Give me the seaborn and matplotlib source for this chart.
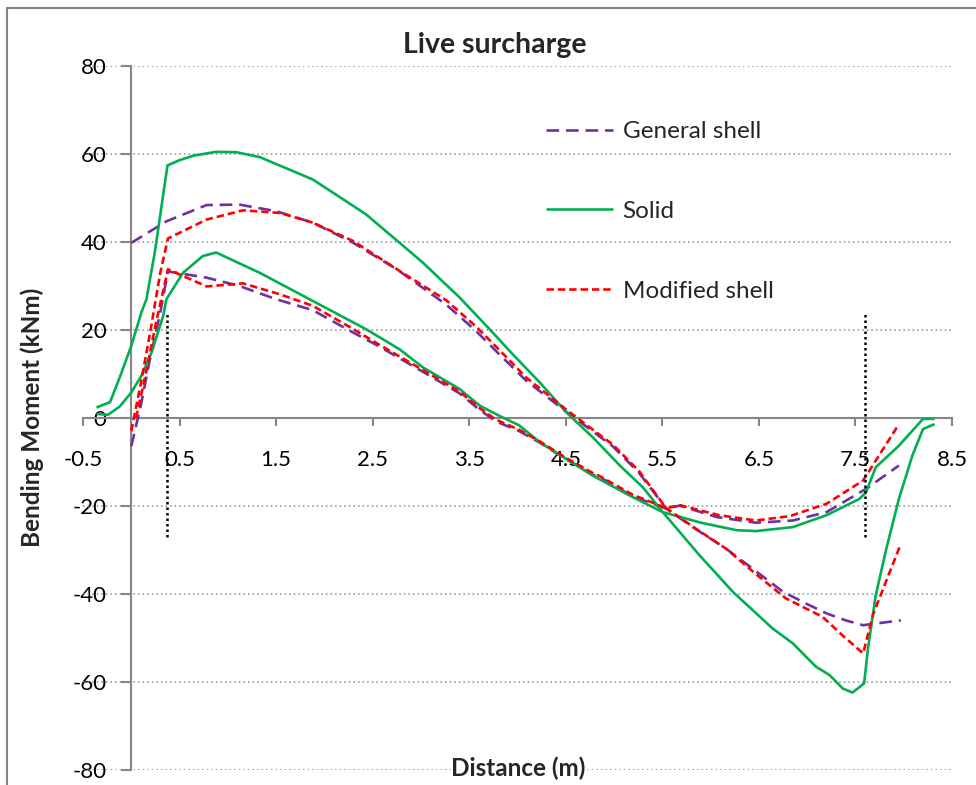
import matplotlib
matplotlib.use("Agg")
import matplotlib.pyplot as plt
import seaborn as sns
import numpy as np
import pandas as pd
from matplotlib.patches import Rectangle

# ---------------- data ----------------
gs1_x = [0, 0.364, 0.78, 1.12, 1.5, 1.88, 2.3, 2.75, 3.26, 3.57, 3.81, 4.09, 4.30, 4.50, 4.71,
         4.99, 5.26, 5.54, 5.85, 6.16, 6.45, 6.75, 7.0, 7.2, 7.4, 7.58, 7.71, 7.97]
gs1_y = [39.8, 44.7, 48.4, 48.5, 47.0, 44.4, 39.8, 33.8, 25.8, 19.8, 14.5, 8.5, 4.9, 1.5, -1.9,
         -6.5, -12.5, -20.6, -25.3, -29.7, -34.5, -39.5, -42.3, -44.4, -46.0, -47.1, -46.7, -46.0]
gs2_x = [0, 0.1, 0.19, 0.3, 0.38, 0.78, 1.12, 1.5, 1.88, 2.3, 2.573, 3.02, 3.40, 3.61, 3.78, 4.02,
         4.23, 4.505, 4.78, 4.85, 5.19, 5.54, 5.68, 6.06, 6.47, 6.85, 7.20, 7.61, 7.95]
gs2_y = [-6.4, 3, 13, 24, 33.3, 31.9, 30.0, 27.0, 24.5, 19.4, 16.2, 10.5, 5.6, 1.8, -0.8, -3.0,
         -5.6, -9.4, -12.9, -13.4, -17.8, -20.6, -19.9, -22.5, -23.8, -23.3, -21.4, -16.1, -10.8]

so1_x = [-0.36, -0.22, -0.12, 0.0, 0.105, 0.157, 0.243, 0.375, 0.50, 0.64, 0.88, 1.09, 1.33, 1.675,
         1.88, 2.09, 2.43, 2.78, 3.02, 3.40, 3.71, 3.95, 4.23, 4.505, 4.78, 5.06, 5.30, 5.505, 5.885,
         6.23, 6.64, 6.85, 7.09, 7.23, 7.37, 7.47, 7.59, 7.63, 7.71, 7.82, 7.95, 8.09, 8.20, 8.32]
so1_y = [2.4, 3.6, 9.2, 16.4, 24.0, 27.0, 37.6, 57.4, 58.6, 59.6, 60.5, 60.4, 59.3, 56.1,
         54.2, 51.2, 46.3, 39.8, 35.3, 27.4, 20.2, 14.5, 8.1, 1.3, -4.4, -10.8, -15.8, -21.4, -31.2,
         -39.5, -47.8, -51.2, -56.5, -58.4, -61.5, -62.4, -60.3, -52.4, -40.3, -29.7, -18.4, -8.5, -2.5, -1.4]
so2_x = [-0.36, -0.24, -0.12, 0.0, 0.105, 0.21, 0.33, 0.364, 0.536, 0.74, 0.88, 1.33, 1.88, 2.43,
         2.78, 3.02, 3.40, 3.61, 3.81, 4.02, 4.23, 4.505, 4.78, 5.16, 5.505, 5.9, 6.27, 6.47, 6.85,
         7.20, 7.54, 7.61, 7.71, 7.95, 8.20, 8.32]
so2_y = [0.9, 0.75, 2.6, 5.8, 9.6, 14.9, 23.2, 27.0, 33.0, 36.8, 37.6, 33.0, 26.6, 20.2,
         15.6, 11.5, 6.6, 2.8, 0.5, -1.7, -5.5, -9.3, -13.1, -17.6, -21.4, -23.8, -25.5, -25.7, -24.8,
         -22.1, -18.4, -16.9, -11.2, -6.3, -0.2, -0.2]

ms1_x = [0, 0.1, 0.2, 0.3, 0.38, 0.78, 1.157, 1.54, 1.88, 2.30, 2.78, 3.26, 3.57, 3.81, 4.09, 4.30,
         4.505, 4.71, 4.99, 5.26, 5.54, 5.85, 6.16, 6.47, 6.78, 7.16, 7.37, 7.58, 7.68, 7.97]
ms1_y = [-3, 8, 20, 33, 40.8, 45.1, 47.2, 46.6, 44.4, 40.2, 33.4, 26.8, 20.8, 15.5, 9.2, 5.5,
         1.9, -1.5, -6.1, -12.1, -20.5, -25.2, -29.7, -35.5, -41.0, -45.2, -49.5, -53.5, -44.8, -28.6]
ms2_x = [0.05, 0.15, 0.25, 0.38, 0.78, 1.157, 1.54, 1.88, 2.30, 2.573, 3.02, 3.40, 3.61, 3.78, 4.02,
         4.23, 4.505, 4.78, 4.85, 5.19, 5.54, 5.68, 6.09, 6.47, 6.82, 7.20, 7.58, 7.95]
ms2_y = [0, 10, 21, 33.8, 29.9, 30.6, 28.1, 25.5, 20.2, 16.6, 10.9, 6.0, 2.2, -0.4, -2.7,
         -5.3, -9.1, -12.5, -13.2, -17.4, -20.5, -19.8, -22.1, -23.3, -22.3, -19.5, -14.2, -1.4]

support_x = [0.37, 7.6]
support_y = [-27, 24]

x_ticks = [-0.5, 0.5, 1.5, 2.5, 3.5, 4.5, 5.5, 6.5, 7.5, 8.5]
y_ticks = [-80, -60, -40, -20, 0, 20, 40, 60, 80]

# ---------------- style ----------------
sns.set_theme(style="white")
plt.rcParams['font.family'] = ['Lato', 'DejaVu Sans']

W, H = 976, 785
fig = plt.figure(figsize=(W / 100, H / 100), dpi=100)
x0, x1 = 83, 952
y0, y1 = 66, 770
ax = fig.add_axes([x0 / W, 1 - y1 / H, (x1 - x0) / W, (y1 - y0) / H])
ax.set_xlim(-0.5, 8.5)
ax.set_ylim(-80, 80)

grey = '#868686'
purple = '#7030A0'
green = '#00B050'
red = '#FF0000'
lw = 1.9

# grid lines (dotted)
for yv in y_ticks:
    if yv != 0:
        ax.axhline(yv, color='#8c8c8c', lw=1.1, ls=(0, (1, 2)), zorder=1)

def draw(xs, ys, color, dashes, label):
    sns.lineplot(x=xs, y=ys, ax=ax, color=color, lw=lw, sort=False, estimator=None,
                 label=label, zorder=3)
    line = ax.get_lines()[-1]
    if dashes is not None:
        line.set_dashes(dashes)
    line.set_solid_capstyle('butt')
    line.set_dash_capstyle('butt')

draw(gs1_x, gs1_y, purple, (4.8, 2.6), 'General shell')
draw(gs2_x, gs2_y, purple, (4.8, 2.6), '_nolegend_')
draw(so1_x, so1_y, green, None, 'Solid')
draw(so2_x, so2_y, green, None, '_nolegend_')
draw(ms1_x, ms1_y, red, (2.8, 1.5), 'Modified shell')
draw(ms2_x, ms2_y, red, (2.8, 1.5), '_nolegend_')

for xv in support_x:
    ax.vlines(xv, support_y[0], support_y[1], colors='black', lw=1.8, linestyles=(0, (1, 1.2)), zorder=4)

# spines through origin
for s in ['top', 'right']:
    ax.spines[s].set_visible(False)
ax.spines['left'].set_position(('data', 0))
ax.spines['bottom'].set_position(('data', 0))
for s in ['left', 'bottom']:
    ax.spines[s].set_color(grey)
    ax.spines[s].set_linewidth(1.5)
    ax.spines[s].set_zorder(2)

ax.set_xticks(x_ticks)
ax.set_xticklabels([f"{v:g}" for v in x_ticks])
ax.set_yticks(y_ticks)
ax.set_yticklabels([f"{v:g}" for v in y_ticks])
ax.tick_params(axis='x', direction='out', length=6, width=1.5, color=grey, pad=17,
               labelsize=16, labelcolor='black', bottom=True)
ax.tick_params(axis='y', direction='out', length=7, width=1.5, color=grey, pad=11,
               labelsize=16, labelcolor='black', left=True)
for t in ax.get_yticklabels():
    t.set_bbox(dict(facecolor='white', edgecolor='none', pad=1.5))

ax.set_xlabel('')
ax.set_ylabel('')

leg = ax.legend(loc='upper left', bbox_to_anchor=(546 / W, 1 - 121 / H), bbox_transform=fig.transFigure,
                frameon=False, fontsize=17.5, handlelength=2.75, handletextpad=0.4,
                labelspacing=2.42, borderpad=0, borderaxespad=0)

fig.text(495 / W, 1 - 45 / H, 'Live surcharge', ha='center', va='center', fontsize=20.5,
         fontweight='bold')
fig.text(518 / W, 1 - 768 / H, 'Distance (m)', ha='center', va='center', fontsize=17.5,
         fontweight='bold', bbox=dict(facecolor='white', edgecolor='none', pad=0))
fig.text(32 / W, 1 - 417 / H, 'Bending Moment (kNm)', ha='center', va='center', fontsize=17.5,
         fontweight='bold', rotation=90)

fig.add_artist(Rectangle((7 / W, -0.1), 1.2, 1.1 - 8 / H, transform=fig.transFigure,
                         fill=False, edgecolor=grey, lw=1.5))

fig.savefig('out.png', dpi=100)
